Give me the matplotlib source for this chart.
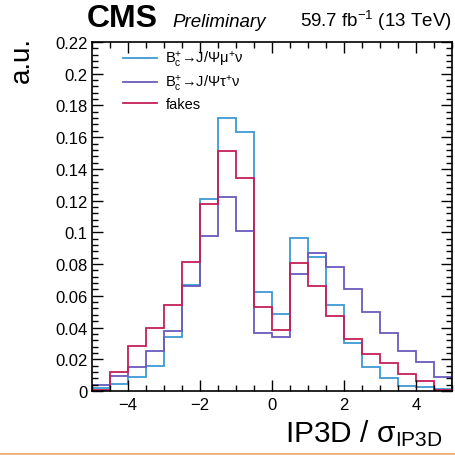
import numpy as np
import matplotlib
matplotlib.use("Agg")
import matplotlib.pyplot as plt
from matplotlib.ticker import MultipleLocator
from matplotlib.lines import Line2D

plt.rcParams["font.family"] = ["Liberation Sans", "DejaVu Sans"]
plt.rcParams["mathtext.fontset"] = "custom"
plt.rcParams["mathtext.rm"] = "Liberation Sans"
plt.rcParams["mathtext.it"] = "Liberation Sans:italic"
plt.rcParams["axes.unicode_minus"] = True

# bin edges of IP3D / sigma, 20 bins of 0.5
edges = np.linspace(-5, 5, 21)

# normalised yields
mu_nu = [0.002, 0.0044, 0.009, 0.016, 0.034, 0.067, 0.121, 0.172, 0.163, 0.0625,
         0.0485, 0.0965, 0.0845, 0.054, 0.030, 0.015, 0.008, 0.003, 0.0028, 0.0013]
tau_nu = [0.004, 0.0092, 0.015, 0.025, 0.038, 0.066, 0.098, 0.122, 0.101, 0.0366,
          0.034, 0.0738, 0.087, 0.078, 0.064, 0.050, 0.0365, 0.0255, 0.018, 0.009]
fakes = [0.0005, 0.012, 0.0285, 0.040, 0.054, 0.081, 0.118, 0.151, 0.134, 0.053,
         0.0385, 0.0807, 0.066, 0.047, 0.033, 0.023, 0.0175, 0.011, 0.006, 0.0006]

labels = [r"B$_\mathrm{c}^{+}$→J/Ψμ$^{+}$ν", r"B$_\mathrm{c}^{+}$→J/Ψτ$^{+}$ν", "fakes"]
colors = ["#3d9ad6", "#6a5bbd", "#c42056"]

fig = plt.figure(figsize=(4.55, 4.56), dpi=100)
ax = fig.add_axes([0.2022, 0.1404, 0.7912, 0.7653])

for vals, col, lab in zip([mu_nu, tau_nu, fakes], colors, labels):
    ax.stairs(vals, edges, color=col, linewidth=1.3, label=lab, baseline=0)

ax.set_xlim(-5, 5)
ax.set_ylim(0, 0.22)

ax.xaxis.set_major_locator(MultipleLocator(2))
ax.xaxis.set_minor_locator(MultipleLocator(0.5))
ax.yaxis.set_minor_locator(MultipleLocator(0.004))
ax.set_yticks(np.arange(0, 0.2201, 0.02))
ax.set_yticklabels(["0", "0.02", "0.04", "0.06", "0.08", "0.1", "0.12",
                    "0.14", "0.16", "0.18", "0.2", "0.22"])
ax.tick_params(which="both", direction="in", top=True, right=True, labelsize=12, width=1.0)
ax.tick_params(which="major", length=8)
ax.tick_params(which="minor", length=4)
ax.tick_params(axis="x", pad=4)
ax.tick_params(axis="y", pad=3)
for s in ax.spines.values():
    s.set_linewidth(1.2)

ax.set_xlabel(r"IP3D / σ$_\mathrm{IP3D}$", fontsize=21.5, labelpad=-1)
ax.xaxis.set_label_coords(0.975, -0.075)
ax.xaxis.label.set_ha("right")
ax.xaxis.label.set_va("top")

fig.text(0.048, 0.919, "a.u.", fontsize=20, rotation=90, ha="center", va="top")

leg = ax.legend(loc="upper left", bbox_to_anchor=(0.05, 1.017), frameon=False,
                fontsize=10.5, handlelength=2.3, handletextpad=0.6, labelspacing=0.28)

fig.text(0.19, 0.94, "CMS", fontsize=23, fontweight="bold", ha="left", va="baseline")
fig.text(0.378, 0.94, "Preliminary", fontsize=13.5, style="italic", ha="left", va="baseline")
fig.text(0.993, 0.94, r"59.7 fb$^{-1}$ (13 TeV)", fontsize=13.5, ha="right", va="baseline")

# thin orange rule under the chart
fig.add_artist(Line2D([0, 1], [0.003, 0.003], color="#f4a460", linewidth=1.2,
                      transform=fig.transFigure))

fig.savefig("out.png", dpi=100)
